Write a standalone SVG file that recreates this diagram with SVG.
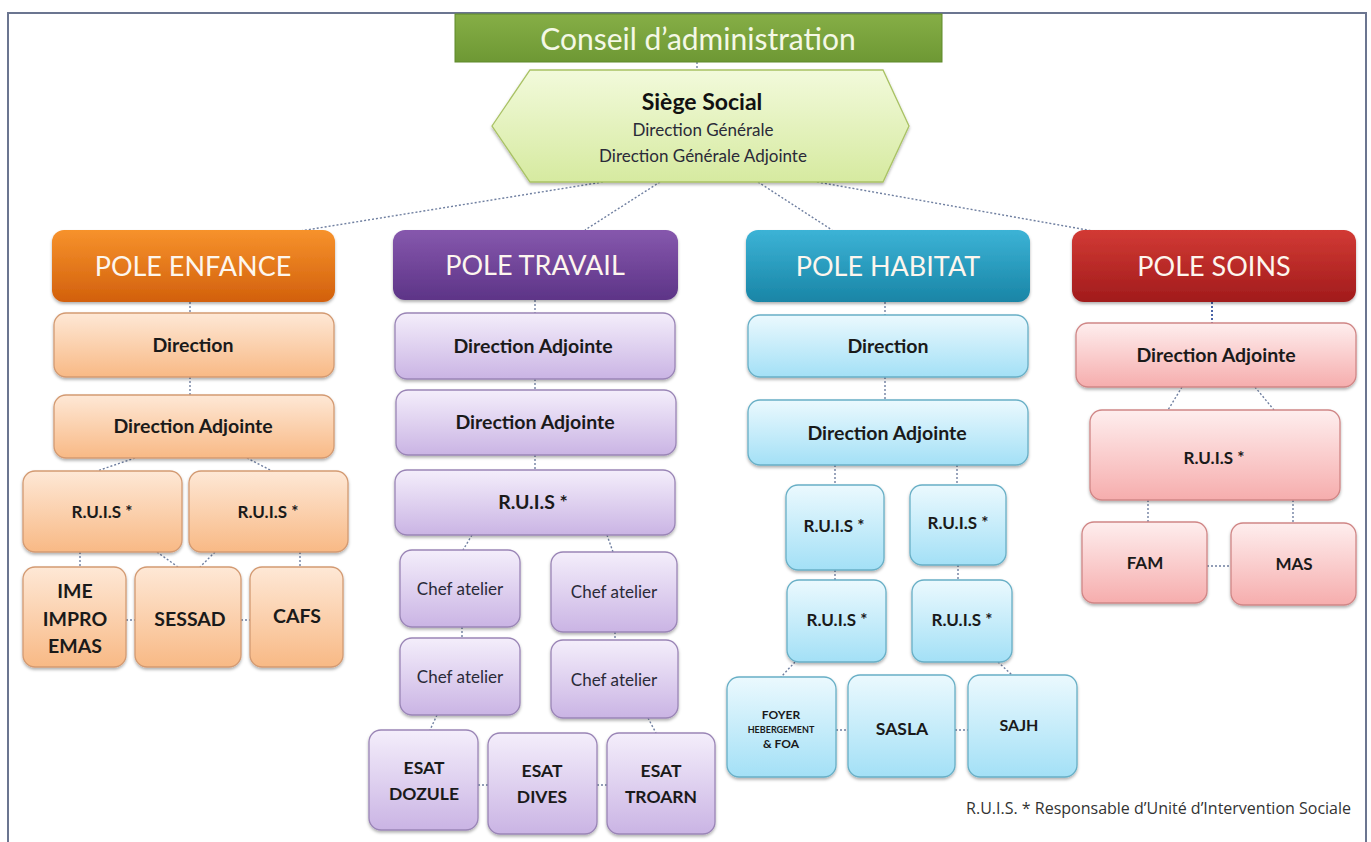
<svg xmlns="http://www.w3.org/2000/svg" width="1371" height="842" viewBox="0 0 1371 842">
  <defs>
    <linearGradient id="gGreen" x1="0" y1="0" x2="0" y2="1">
      <stop offset="0" stop-color="#86ae46"/>
      <stop offset="1" stop-color="#6e9834"/>
    </linearGradient>
    <linearGradient id="gHex" x1="0" y1="0" x2="0" y2="1">
      <stop offset="0" stop-color="#f2fadb"/>
      <stop offset="1" stop-color="#d6eaa0"/>
    </linearGradient>
    <linearGradient id="gOrange" x1="0" y1="0" x2="0" y2="1">
      <stop offset="0" stop-color="#f7922c"/>
      <stop offset="1" stop-color="#d2600c"/>
    </linearGradient>
    <linearGradient id="gPurple" x1="0" y1="0" x2="0" y2="1">
      <stop offset="0" stop-color="#8658ad"/>
      <stop offset="1" stop-color="#5d3487"/>
    </linearGradient>
    <linearGradient id="gTeal" x1="0" y1="0" x2="0" y2="1">
      <stop offset="0" stop-color="#3cb3d6"/>
      <stop offset="1" stop-color="#1985a6"/>
    </linearGradient>
    <linearGradient id="gRed" x1="0" y1="0" x2="0" y2="1">
      <stop offset="0" stop-color="#d23a34"/>
      <stop offset="1" stop-color="#a11b1c"/>
    </linearGradient>
    <linearGradient id="gLOrange" x1="0" y1="0" x2="0" y2="1">
      <stop offset="0" stop-color="#fee8d6"/>
      <stop offset="1" stop-color="#f8b985"/>
    </linearGradient>
    <linearGradient id="gLPurple" x1="0" y1="0" x2="0" y2="1">
      <stop offset="0" stop-color="#f4eefb"/>
      <stop offset="1" stop-color="#cab4e4"/>
    </linearGradient>
    <linearGradient id="gLBlue" x1="0" y1="0" x2="0" y2="1">
      <stop offset="0" stop-color="#ebf9fe"/>
      <stop offset="1" stop-color="#a3e0f6"/>
    </linearGradient>
    <linearGradient id="gLPink" x1="0" y1="0" x2="0" y2="1">
      <stop offset="0" stop-color="#feeeee"/>
      <stop offset="1" stop-color="#f6adad"/>
    </linearGradient>
    <filter id="shadow" x="-10%" y="-10%" width="120%" height="130%">
      <feDropShadow dx="0" dy="2" stdDeviation="1.5" flood-color="#000" flood-opacity="0.3"/>
    </filter>
  </defs>
  <style>
    text { font-family: Lato, "Liberation Sans", sans-serif; text-anchor: middle; }
    .pole { stroke: none; filter: url(#shadow); }
    .pole-t { fill: #fdf6ee; font-size: 27px; }
    .box { stroke-width: 1.3; filter: url(#shadow); }
    .or { fill: url(#gLOrange); stroke: #d39a72; }
    .pu { fill: url(#gLPurple); stroke: #9a85b6; }
    .bl { fill: url(#gLBlue); stroke: #68afc6; }
    .pk { fill: url(#gLPink); stroke: #d08686; }
    .lb { fill: #1a1a1a; font-weight: bold; font-size: 19.5px; }
    .lbs { fill: #1a1a1a; font-weight: bold; font-size: 17px; }
    .lbb { fill: #1a1a1a; font-weight: bold; font-size: 19.5px; }
    .lbm { fill: #1a1a1a; font-weight: bold; font-size: 17.5px; }
    .lr { fill: #2a2a38; font-size: 17px; }
    .conn line { stroke: #6f7fa0; stroke-width: 1.4; stroke-dasharray: 2 2; fill: none; }
  </style>

  <rect width="1371" height="842" fill="#ffffff"/>
  <!-- outer frame, open at the bottom -->
  <path d="M8,850 L8,13 L1366,13 L1366,850" fill="none" stroke="#6b7590" stroke-width="2"/>

  <!-- connectors -->
  <g id="connectors" class="conn">
    <line x1="697" y1="62" x2="697" y2="70"/>
    <line x1="603" y1="182" x2="300" y2="231"/>
    <line x1="660" y1="182" x2="585" y2="230"/>
    <line x1="758" y1="182" x2="832" y2="230"/>
    <line x1="817" y1="182" x2="1093" y2="231"/>

    <!-- enfance -->
    <line x1="190" y1="302" x2="190" y2="313"/>
    <line x1="190" y1="377" x2="190" y2="395"/>
    <line x1="135" y1="458" x2="97" y2="471"/>
    <line x1="247" y1="458" x2="272" y2="471"/>
    <line x1="80" y1="552" x2="80" y2="567"/>
    <line x1="157" y1="552" x2="178" y2="567"/>
    <line x1="215" y1="552" x2="200" y2="567"/>
    <line x1="300" y1="552" x2="300" y2="567"/>
    <line x1="126" y1="620" x2="135" y2="620"/>
    <line x1="241" y1="620" x2="250" y2="620"/>

    <!-- travail -->
    <line x1="535" y1="300" x2="535" y2="313"/>
    <line x1="535" y1="379" x2="535" y2="390"/>
    <line x1="535" y1="455" x2="535" y2="470"/>
    <line x1="472" y1="535" x2="463" y2="550"/>
    <line x1="607" y1="535" x2="613" y2="552"/>
    <line x1="462" y1="627" x2="462" y2="638"/>
    <line x1="615" y1="632" x2="615" y2="640"/>
    <line x1="437" y1="715" x2="430" y2="730"/>
    <line x1="648" y1="718" x2="656" y2="733"/>
    <line x1="478" y1="785" x2="488" y2="785"/>
    <line x1="597" y1="785" x2="607" y2="785"/>

    <!-- habitat -->
    <line x1="885" y1="302" x2="885" y2="315"/>
    <line x1="885" y1="377" x2="885" y2="400"/>
    <line x1="835" y1="465" x2="835" y2="485"/>
    <line x1="957" y1="465" x2="957" y2="485"/>
    <line x1="835" y1="570" x2="835" y2="580"/>
    <line x1="958" y1="565" x2="958" y2="580"/>
    <line x1="795" y1="662" x2="781" y2="677"/>
    <line x1="998" y1="662" x2="1012" y2="675"/>
    <line x1="836" y1="730" x2="848" y2="730"/>
    <line x1="955" y1="730" x2="968" y2="730"/>

    <!-- soins -->
    <line x1="1212" y1="302" x2="1212" y2="323" style="stroke:#4a64a8;stroke-width:2"/>
    <line x1="1182" y1="387" x2="1168" y2="410"/>
    <line x1="1255" y1="387" x2="1274" y2="410"/>
    <line x1="1148" y1="500" x2="1148" y2="522"/>
    <line x1="1293" y1="500" x2="1293" y2="523"/>
    <line x1="1207" y1="566" x2="1231" y2="566"/>
  </g>

  <!-- top -->
  <g id="conseil">
    <rect x="455" y="14" width="487" height="48" fill="url(#gGreen)" stroke="#5f8a2a" stroke-width="1"/>
    <text x="698" y="50" style="fill:#f4f8e6;font-size:30px">Conseil d’administration</text>
  </g>
  <g id="siege">
    <polygon points="492,126 530,70 883,70 909,126 883,182 530,182" fill="url(#gHex)" stroke="#a9c264" stroke-width="1.3" filter="url(#shadow)"/>
    <text x="702" y="110" style="fill:#111;font-weight:bold;font-size:23px">Siège Social</text>
    <text x="703" y="136" class="lr">Direction Générale</text>
    <text x="703" y="162" class="lr">Direction Générale Adjointe</text>
  </g>

  <!-- POLE ENFANCE -->
  <g id="pole-enfance">
    <rect class="pole" x="52" y="230" width="283" height="72" rx="12" fill="url(#gOrange)"/>
    <text class="pole-t" x="193" y="276">POLE ENFANCE</text>
  </g>
  <g id="enf-direction">
    <rect class="box or" x="54" y="313" width="280" height="64" rx="12"/>
    <text class="lb" x="193" y="352">Direction</text>
  </g>
  <g id="enf-dir-adj">
    <rect class="box or" x="54" y="395" width="280" height="63" rx="12"/>
    <text class="lb" x="193" y="433">Direction Adjointe</text>
  </g>
  <g id="enf-ruis-1">
    <rect class="box or" x="23" y="471" width="159" height="81" rx="12"/>
    <text class="lbs" x="102" y="518">R.U.I.S *</text>
  </g>
  <g id="enf-ruis-2">
    <rect class="box or" x="189" y="471" width="159" height="81" rx="12"/>
    <text class="lbs" x="268" y="518">R.U.I.S *</text>
  </g>
  <g id="enf-ime">
    <rect class="box or" x="23" y="567" width="103" height="100" rx="12"/>
    <text class="lbb" x="75" y="598">IME</text>
    <text class="lbb" x="75" y="626">IMPRO</text>
    <text class="lbb" x="75" y="653">EMAS</text>
  </g>
  <g id="enf-sessad">
    <rect class="box or" x="135" y="567" width="106" height="100" rx="12"/>
    <text class="lbb" x="190" y="626">SESSAD</text>
  </g>
  <g id="enf-cafs">
    <rect class="box or" x="250" y="567" width="93" height="100" rx="12"/>
    <text class="lbb" x="297" y="623">CAFS</text>
  </g>

  <!-- POLE TRAVAIL -->
  <g id="pole-travail">
    <rect class="pole" x="393" y="230" width="285" height="70" rx="12" fill="url(#gPurple)"/>
    <text class="pole-t" x="535" y="275">POLE TRAVAIL</text>
  </g>
  <g id="tra-dir-adj-1">
    <rect class="box pu" x="395" y="313" width="280" height="66" rx="12"/>
    <text class="lb" x="533" y="353">Direction Adjointe</text>
  </g>
  <g id="tra-dir-adj-2">
    <rect class="box pu" x="396" y="390" width="280" height="65" rx="12"/>
    <text class="lb" x="535" y="429">Direction Adjointe</text>
  </g>
  <g id="tra-ruis">
    <rect class="box pu" x="395" y="470" width="280" height="65" rx="12"/>
    <text class="lb" x="533" y="509">R.U.I.S *</text>
  </g>
  <g id="tra-chef-1">
    <rect class="box pu" x="400" y="550" width="120" height="77" rx="12"/>
    <text class="lr" x="460" y="595">Chef atelier</text>
  </g>
  <g id="tra-chef-2">
    <rect class="box pu" x="551" y="552" width="126" height="80" rx="12"/>
    <text class="lr" x="614" y="598">Chef atelier</text>
  </g>
  <g id="tra-chef-3">
    <rect class="box pu" x="400" y="638" width="120" height="77" rx="12"/>
    <text class="lr" x="460" y="683">Chef atelier</text>
  </g>
  <g id="tra-chef-4">
    <rect class="box pu" x="551" y="640" width="127" height="78" rx="12"/>
    <text class="lr" x="614" y="686">Chef atelier</text>
  </g>
  <g id="tra-esat-dozule">
    <rect class="box pu" x="369" y="730" width="109" height="100" rx="12"/>
    <text class="lbm" x="424" y="774">ESAT</text>
    <text class="lbm" x="424" y="800">DOZULE</text>
  </g>
  <g id="tra-esat-dives">
    <rect class="box pu" x="488" y="733" width="109" height="101" rx="12"/>
    <text class="lbm" x="542" y="777">ESAT</text>
    <text class="lbm" x="542" y="803">DIVES</text>
  </g>
  <g id="tra-esat-troarn">
    <rect class="box pu" x="607" y="733" width="108" height="101" rx="12"/>
    <text class="lbm" x="661" y="777">ESAT</text>
    <text class="lbm" x="661" y="803">TROARN</text>
  </g>

  <!-- POLE HABITAT -->
  <g id="pole-habitat">
    <rect class="pole" x="746" y="230" width="284" height="72" rx="12" fill="url(#gTeal)"/>
    <text class="pole-t" x="888" y="276">POLE HABITAT</text>
  </g>
  <g id="hab-direction">
    <rect class="box bl" x="748" y="315" width="280" height="62" rx="12"/>
    <text class="lb" x="888" y="353">Direction</text>
  </g>
  <g id="hab-dir-adj">
    <rect class="box bl" x="748" y="400" width="280" height="65" rx="12"/>
    <text class="lb" x="887" y="440">Direction Adjointe</text>
  </g>
  <g id="hab-ruis-1">
    <rect class="box bl" x="786" y="485" width="98" height="85" rx="12"/>
    <text class="lbs" x="834" y="532">R.U.I.S *</text>
  </g>
  <g id="hab-ruis-2">
    <rect class="box bl" x="910" y="485" width="96" height="80" rx="12"/>
    <text class="lbs" x="958" y="529">R.U.I.S *</text>
  </g>
  <g id="hab-ruis-3">
    <rect class="box bl" x="787" y="580" width="99" height="82" rx="12"/>
    <text class="lbs" x="837" y="626">R.U.I.S *</text>
  </g>
  <g id="hab-ruis-4">
    <rect class="box bl" x="912" y="580" width="100" height="82" rx="12"/>
    <text class="lbs" x="962" y="626">R.U.I.S *</text>
  </g>
  <g id="hab-foyer">
    <rect class="box bl" x="727" y="677" width="109" height="100" rx="12"/>
    <text class="lbs" x="781" y="719" style="font-size:12px">FOYER</text>
    <text class="lbs" x="781" y="733" style="font-size:9px">HEBERGEMENT</text>
    <text class="lbs" x="781" y="748" style="font-size:12px">&amp; FOA</text>
  </g>
  <g id="hab-sasla">
    <rect class="box bl" x="848" y="675" width="107" height="102" rx="12"/>
    <text class="lbm" x="902" y="735">SASLA</text>
  </g>
  <g id="hab-sajh">
    <rect class="box bl" x="968" y="675" width="109" height="102" rx="12"/>
    <text class="lbm" x="1019" y="731" style="font-size:16px">SAJH</text>
  </g>

  <!-- POLE SOINS -->
  <g id="pole-soins">
    <rect class="pole" x="1072" y="230" width="284" height="72" rx="12" fill="url(#gRed)"/>
    <text class="pole-t" x="1214" y="276">POLE SOINS</text>
  </g>
  <g id="soi-dir-adj">
    <rect class="box pk" x="1076" y="323" width="280" height="64" rx="12"/>
    <text class="lb" x="1216" y="362">Direction Adjointe</text>
  </g>
  <g id="soi-ruis">
    <rect class="box pk" x="1090" y="410" width="250" height="90" rx="12"/>
    <text class="lbs" x="1214" y="464">R.U.I.S *</text>
  </g>
  <g id="soi-fam">
    <rect class="box pk" x="1082" y="522" width="125" height="81" rx="12"/>
    <text class="lbs" x="1145" y="569">FAM</text>
  </g>
  <g id="soi-mas">
    <rect class="box pk" x="1231" y="523" width="125" height="82" rx="12"/>
    <text class="lbs" x="1294" y="570">MAS</text>
  </g>

  <text x="1351" y="814" style="text-anchor:end;fill:#333;font-family:'Open Sans','Liberation Sans',sans-serif;font-size:16px">R.U.I.S. * Responsable d’Unité d’Intervention Sociale</text>
</svg>
